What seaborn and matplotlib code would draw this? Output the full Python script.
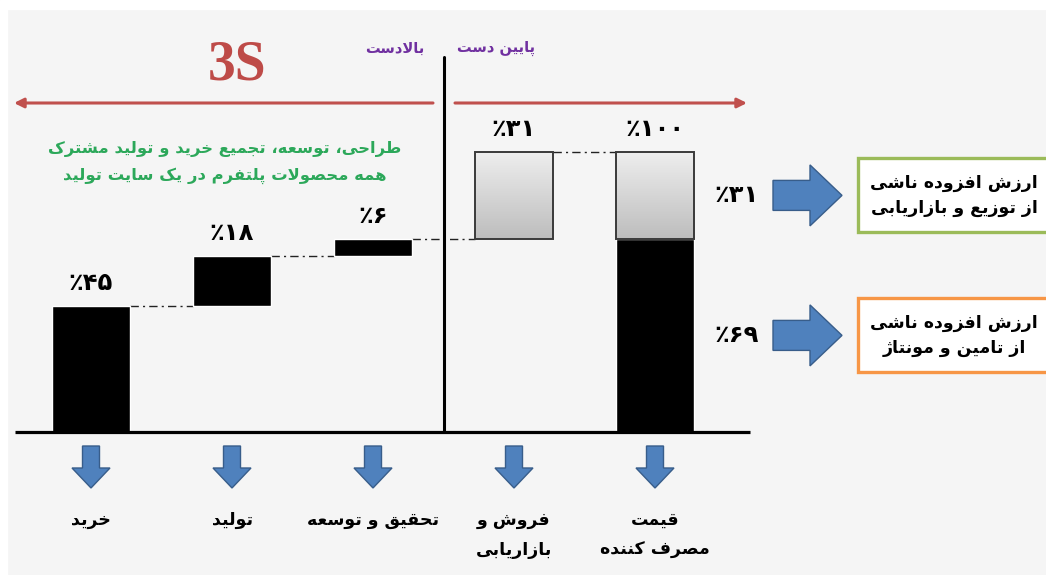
import numpy as np
import pandas as pd
import matplotlib
matplotlib.use("Agg")
import matplotlib.pyplot as plt
from matplotlib.patches import Rectangle, FancyArrow
from matplotlib.colors import LinearSegmentedColormap
import seaborn as sns

# ---------------- data ----------------
stages = ["خرید", "تولید", "تحقیق و توسعه", "فروش و\nبازاریابی", "قیمت\nمصرف کننده"]
upstream_steps = [45, 18, 6]        # purchase, production, R&D (percent)
downstream_step = 31                # sales & marketing (percent)
consumer_price = 100                # final price (percent)
side_shares = [31, 69]              # split of the final price
side_notes = ["ارزش افزوده ناشی\nاز توزیع و بازاریابی",
              "ارزش افزوده ناشی\nاز تامین و مونتاژ"]
side_colors = ["#9bbb59", "#f79646"]
banner = "3S"
upstream_label = "بالادست"
downstream_label = "پایین دست"
note_lines = ["طراحی، توسعه، تجمیع خرید و تولید مشترک",
              "همه محصولات پلتفرم در یک سایت تولید"]

# ---------------- Persian shaping (presentation forms + RTL order) ----------------
_DUAL = {
    "ب": 0xFE8F, "ت": 0xFE95, "ث": 0xFE99, "ج": 0xFE9D, "ح": 0xFEA1, "خ": 0xFEA5,
    "س": 0xFEB1, "ش": 0xFEB5, "ص": 0xFEB9, "ض": 0xFEBD, "ط": 0xFEC1, "ظ": 0xFEC5,
    "ع": 0xFEC9, "غ": 0xFECD, "ف": 0xFED1, "ق": 0xFED5, "ك": 0xFED9, "ل": 0xFEDD,
    "م": 0xFEE1, "ن": 0xFEE5, "ه": 0xFEE9, "ي": 0xFEF1,
    "پ": 0xFB56, "چ": 0xFB7A, "ک": 0xFB8E, "گ": 0xFB92, "ی": 0xFBFC,
}
_RIGHT = {"ا": 0xFE8D, "آ": 0xFE81, "د": 0xFEA9, "ذ": 0xFEAB, "ر": 0xFEAD,
          "ز": 0xFEAF, "و": 0xFEED, "ژ": 0xFB8A}


def fa(text):
    lines = []
    for line in text.split("\n"):
        out = []
        i, n = 0, len(line)
        while i < n:
            c = line[i]
            prev = line[i - 1] if i > 0 else ""
            jp = prev in _DUAL
            if c == "ل" and i + 1 < n and line[i + 1] == "ا":
                out.append("\uFEFC" if jp else "\uFEFB")
                i += 2
                continue
            nxt = line[i + 1] if i + 1 < n else ""
            if c in _DUAL:
                jn = nxt in _DUAL or nxt in _RIGHT
                form = 3 if (jp and jn) else 2 if jn else 1 if jp else 0
                out.append(chr(_DUAL[c] + form))
            elif c in _RIGHT:
                out.append(chr(_RIGHT[c] + (1 if jp else 0)))
            else:
                out.append(c)
            i += 1
        lines.append("".join(reversed(out)))
    return "\n".join(lines)


FA_DIGITS = str.maketrans("0123456789", "۰۱۲۳۴۵۶۷۸۹")


def pct(v):
    return "٪" + str(v).translate(FA_DIGITS)


# ---------------- style ----------------
sns.set_theme(style="white")
plt.rcParams["font.family"] = ["DejaVu Sans"]

W, H = 1046, 575
CAT_PX, ORIGIN_PX, BASE_PX, UNIT_PX = 141.0, 91.0, 432.0, 2.8
XL = (-ORIGIN_PX / CAT_PX, (W - ORIGIN_PX) / CAT_PX)
YL = (-(H - BASE_PX) / UNIT_PX, BASE_PX / UNIT_PX)


def X(px):
    return XL[0] + px / CAT_PX


def Y(py):
    return YL[1] - py / UNIT_PX


fig = plt.figure(figsize=(W / 100, H / 100), dpi=100, facecolor="#f5f5f5")
fig.patches.append(Rectangle((0, 1 - 9 / H), 1, 9 / H, transform=fig.transFigure,
                             color="white", zorder=0))
fig.patches.append(Rectangle((0, 0), 7 / W, 1, transform=fig.transFigure,
                             color="white", zorder=0))
ax = fig.add_axes([0, 0, 1, 1])
ax.set_facecolor("none")

# ---------------- waterfall segments ----------------
upstream_total = sum(upstream_steps)
black_df = pd.DataFrame({
    "stage": stages[:3] + [stages[4]],
    "height": upstream_steps + [upstream_total],
    "bottom": list(np.cumsum([0] + upstream_steps[:-1])) + [0],
})
gray_df = pd.DataFrame({
    "stage": [stages[3], stages[4]],
    "height": [downstream_step, consumer_price - upstream_total],
    "bottom": [upstream_total, upstream_total],
})

BAR_W = 0.56
segments = {}
for df, color in [(black_df, "black"), (gray_df, "#d8d8d8")]:
    n0 = len(ax.patches)
    sns.barplot(data=df, x="stage", y="height", order=stages, color=color,
                saturation=1, width=BAR_W, errorbar=None, ax=ax)
    bottoms = {stages.index(s): b for s, b in zip(df["stage"], df["bottom"])}
    new = ax.patches[n0:]
    for p in new:
        idx = int(round(p.get_x() + p.get_width() / 2))
        p.set_y(bottoms[idx])
        p.set_zorder(3)
    segments[color] = new

# gradient fill for the downstream (gray) segments
grad_cmap = LinearSegmentedColormap.from_list("g", ["#bdbdbd", "#eeeeee"])
grad = np.linspace(0, 1, 256).reshape(-1, 1)
for p in segments["#d8d8d8"]:
    p.set_facecolor("none")
    p.set_edgecolor("#3a3a3a")
    p.set_linewidth(1.4)
    x, y, w, h = p.get_x(), p.get_y(), p.get_width(), p.get_height()
    im = ax.imshow(grad, extent=[x, x + w, y, y + h], origin="lower",
                   cmap=grad_cmap, aspect="auto", zorder=2.5)
    im.set_clip_path(p)

# connector lines between consecutive levels
levels = list(np.cumsum(upstream_steps)) + [upstream_total + downstream_step]
for i, lvl in enumerate(levels):
    ax.plot([i + BAR_W / 2, i + 1 - BAR_W / 2], [lvl, lvl], color="#222222",
            lw=1.0, linestyle=(0, (6, 3, 1.5, 3)), zorder=2)

# value labels above bars
tops = levels + [consumer_price]
values = upstream_steps + [downstream_step, consumer_price]
for i, (t, v) in enumerate(zip(tops, values)):
    ax.text(i, t + 23 / UNIT_PX, pct(v), ha="center", va="center",
            fontsize=17.5, fontweight="bold", color="black", zorder=5)

# baseline and divider
ax.plot([X(15), X(750)], [0, 0], color="black", lw=2.3, solid_capstyle="butt", zorder=4)
ax.plot([2.5, 2.5], [0, Y(57)], color="black", lw=2.2, zorder=4)

# upstream / downstream arrows
red = "#c0504d"
ax.annotate("", xy=(X(14), Y(103)), xytext=(X(433), Y(103)),
            arrowprops=dict(arrowstyle="-|>", color=red, lw=2.2, mutation_scale=14,
                            shrinkA=0, shrinkB=0))
ax.annotate("", xy=(X(747), Y(103)), xytext=(X(455), Y(103)),
            arrowprops=dict(arrowstyle="-|>", color=red, lw=2.2, mutation_scale=14,
                            shrinkA=0, shrinkB=0))
ax.text(X(237), Y(66), banner, ha="center", va="center", color="#be4b48",
        fontsize=40, fontweight="bold", family="Liberation Serif")
ax.text(X(395), Y(48), fa(upstream_label), ha="center", va="center",
        color="#7030a0", fontsize=10.5, fontweight="bold")
ax.text(X(496), Y(48), fa(downstream_label), ha="center", va="center",
        color="#7030a0", fontsize=10.5, fontweight="bold")
for k, line in enumerate(note_lines):
    ax.text(X(225), Y(149 + 27 * k), fa(line), ha="center", va="center",
            color="#2ca85a", fontsize=11.8, fontweight="bold")

# right-hand breakdown
blue, blue_edge = "#4f81bd", "#385d8a"
mids = [upstream_total + downstream_step / 2, upstream_total / 2]
for share, note, ec, ym in zip(side_shares, side_notes, side_colors, mids):
    ax.text(X(737), ym, pct(share), ha="center", va="center", fontsize=17.5,
            fontweight="bold", color="black")
    ax.add_patch(FancyArrow(X(773), ym, (842 - 773) / CAT_PX, 0,
                            width=30 / UNIT_PX, head_width=61 / UNIT_PX,
                            head_length=32 / CAT_PX, length_includes_head=True,
                            facecolor=blue, edgecolor=blue_edge, lw=1.0, zorder=4))
    box_h = 74 / UNIT_PX
    ax.add_patch(Rectangle((X(858), ym - box_h / 2), X(1060) - X(858), box_h,
                           facecolor="white", edgecolor=ec, lw=2.4, zorder=4))
    ax.text(X(954), ym, fa(note), ha="center", va="center", fontsize=12.5,
            fontweight="bold", color="black", linespacing=1.5, zorder=5)

# stage arrows and labels under the baseline
for i, name in enumerate(stages):
    ax.add_patch(FancyArrow(i, Y(446), 0, -(42 / UNIT_PX),
                            width=17 / CAT_PX, head_width=38 / CAT_PX,
                            head_length=20 / UNIT_PX, length_includes_head=True,
                            facecolor=blue, edgecolor=blue_edge, lw=1.0, zorder=4))
    for k, line in enumerate(name.split("\n")):
        ax.text(i, Y(520 + 30 * k), fa(line), ha="center", va="center",
                fontsize=12.5, fontweight="bold", color="black")

ax.set_xlim(*XL)
ax.set_ylim(*YL)
ax.axis("off")

fig.savefig("out.png", dpi=100, facecolor=fig.get_facecolor())
